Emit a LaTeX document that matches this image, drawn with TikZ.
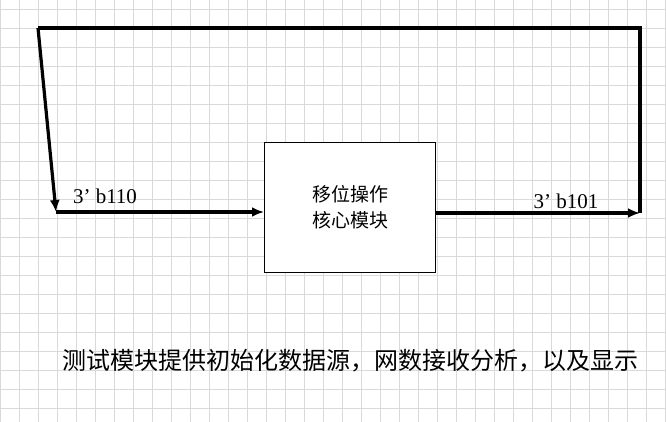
\documentclass[tikz,border=0pt]{standalone}
\usepackage{fontspec}
\newfontfamily\cjk{Noto Sans CJK SC}
\setmainfont{Liberation Serif}
\usetikzlibrary{arrows.meta}
\begin{document}
\begin{tikzpicture}[x=1pt,y=-1pt,
  wire/.style={line width=3.2pt,-{Latex[length=12pt,width=10pt]}},
  plain/.style={line width=3.2pt},
  lbl/.style={font=\fontsize{21}{24}\selectfont}]
\fill[white] (0,0) rectangle (666,422);
\useasboundingbox (0,0) rectangle (666,422);
\begin{scope}
\clip (0,0) rectangle (666,422);
\foreach \x in {0,19,...,665} \draw[black!15,line width=0.8pt] (\x,0) -- (\x,422);
\foreach \y in {9.5,28.5,...,422} \draw[black!15,line width=0.8pt] (0,\y) -- (666,\y);
\end{scope}
\node[draw,line width=1pt,fill=white,minimum width=171pt,minimum height=129pt,
  align=center,font=\cjk\fontsize{19}{26}\selectfont] (core) at (350,207.5) {移位操作\\核心模块};
\coordinate (tl) at (38,28);
\coordinate (tr) at (640,28);
\coordinate (in) at (56,212);
\coordinate (out) at (640,213);
\draw[wire] (tl) -- (in);
\draw[wire] (in) -- (in -| core.west);
\draw[wire] (core.east |- out) -- (out);
\draw[plain] (out) -- (tr) -- (tl);
\node[lbl] (l1) at (105,196) {3’ b110};
\node[lbl] (l2) at (566,201) {3’ b101};
\node[font=\cjk\fontsize{24}{27}\selectfont] (cap) at (350,361) {测试模块提供初始化数据源，网数接收分析，以及显示};
\end{tikzpicture}
\end{document}
